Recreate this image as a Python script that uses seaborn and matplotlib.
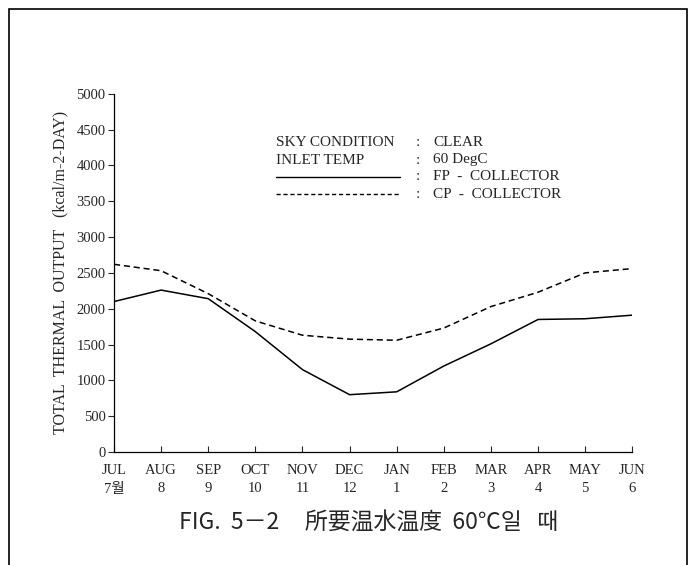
import numpy as np
import pandas as pd
import matplotlib
matplotlib.use("Agg")
import matplotlib.pyplot as plt
import seaborn as sns
from matplotlib.patches import Rectangle
from matplotlib.lines import Line2D

# Data
months = ["JUL\n7월", "AUG\n8", "SEP\n9", "OCT\n10", "NOV\n11", "DEC\n12",
          "JAN\n1", "FEB\n2", "MAR\n3", "APR\n4", "MAY\n5", "JUN\n6"]
fp_output = [2100, 2260, 2140, 1680, 1150, 800, 840, 1200, 1510, 1850, 1860, 1910]
cp_output = [2620, 2530, 2210, 1830, 1630, 1575, 1560, 1730, 2030, 2230, 2500, 2560]
y_ticks = [0, 500, 1000, 1500, 2000, 2500, 3000, 3500, 4000, 4500, 5000]

df = pd.DataFrame({"idx": np.arange(len(months)), "FP": fp_output, "CP": cp_output})

sns.set_style("white")
serif = ["Liberation Serif", "Noto Sans CJK KR"]
plt.rcParams["font.family"] = serif

fig = plt.figure(figsize=(6.91, 5.65), dpi=100)
ax = fig.add_axes([0.165, 0.2, 0.75, 0.634])

sns.lineplot(data=df, x="idx", y="FP", color="black", lw=1.1, ax=ax)
sns.lineplot(data=df, x="idx", y="CP", color="black", lw=1.1, ax=ax)
ax.lines[1].set_dashes([4, 2.5])

ax.set_xlim(0, len(months) - 1)
ax.set_ylim(0, 5000)
ax.set_yticks(y_ticks)
ax.set_xticks(df["idx"])
ax.set_xticklabels(months, fontsize=10.5, linespacing=1.5)
ax.tick_params(axis="y", labelsize=10.5, direction="out", length=4, width=0.8, left=True, pad=2)
ax.tick_params(axis="x", direction="in", length=4, width=0.8, bottom=True, pad=9)
ax.set_xlabel("")
ax.set_ylabel("TOTAL  THERMAL  OUTPUT   (kcal/m-2-DAY)", fontsize=11.5, labelpad=6)
for s in ["top", "right"]:
    ax.spines[s].set_visible(False)
for s in ["left", "bottom"]:
    ax.spines[s].set_color("black")
    ax.spines[s].set_linewidth(0.9)

# Annotation block
tx, cx, vx = 276 / 691, 416 / 691, 433 / 691
rows = [("SKY CONDITION", "CLEAR", 143), ("INLET TEMP", "60 DegC", 160)]
for name, val, py in rows:
    y = 1 - py / 565
    fig.text(tx, y, name, fontsize=11, va="center", ha="left")
    fig.text(cx, y, ":", fontsize=11, va="center", ha="left")
    fig.text(vx, y, val, fontsize=11, va="center", ha="left")
for label, dashes, py in [("FP  -  COLLECTOR", None, 177), ("CP  -  COLLECTOR", [3, 2], 194)]:
    y = 1 - py / 565
    ln = Line2D([tx, 400 / 691], [y, y], transform=fig.transFigure, color="black", lw=1.0)
    if dashes:
        ln.set_dashes(dashes)
    fig.add_artist(ln)
    fig.text(cx, y, ":", fontsize=11, va="center", ha="left")
    fig.text(vx, y, label, fontsize=11, va="center", ha="left")

# Caption
fig.text(369 / 691, 1 - 522 / 565, "FIG.  5－2     所要温水温度  60℃일   때", fontsize=16.5,
         ha="center", va="center", family=["Noto Sans CJK KR", "DejaVu Sans"])

# Outer frame
fig.add_artist(Rectangle((9 / 691, -0.01), 678 / 691, 1 - 9 / 565 + 0.01,
                         transform=fig.transFigure, fill=False, ec="black", lw=1.2))

fig.savefig("out.png", dpi=100)
